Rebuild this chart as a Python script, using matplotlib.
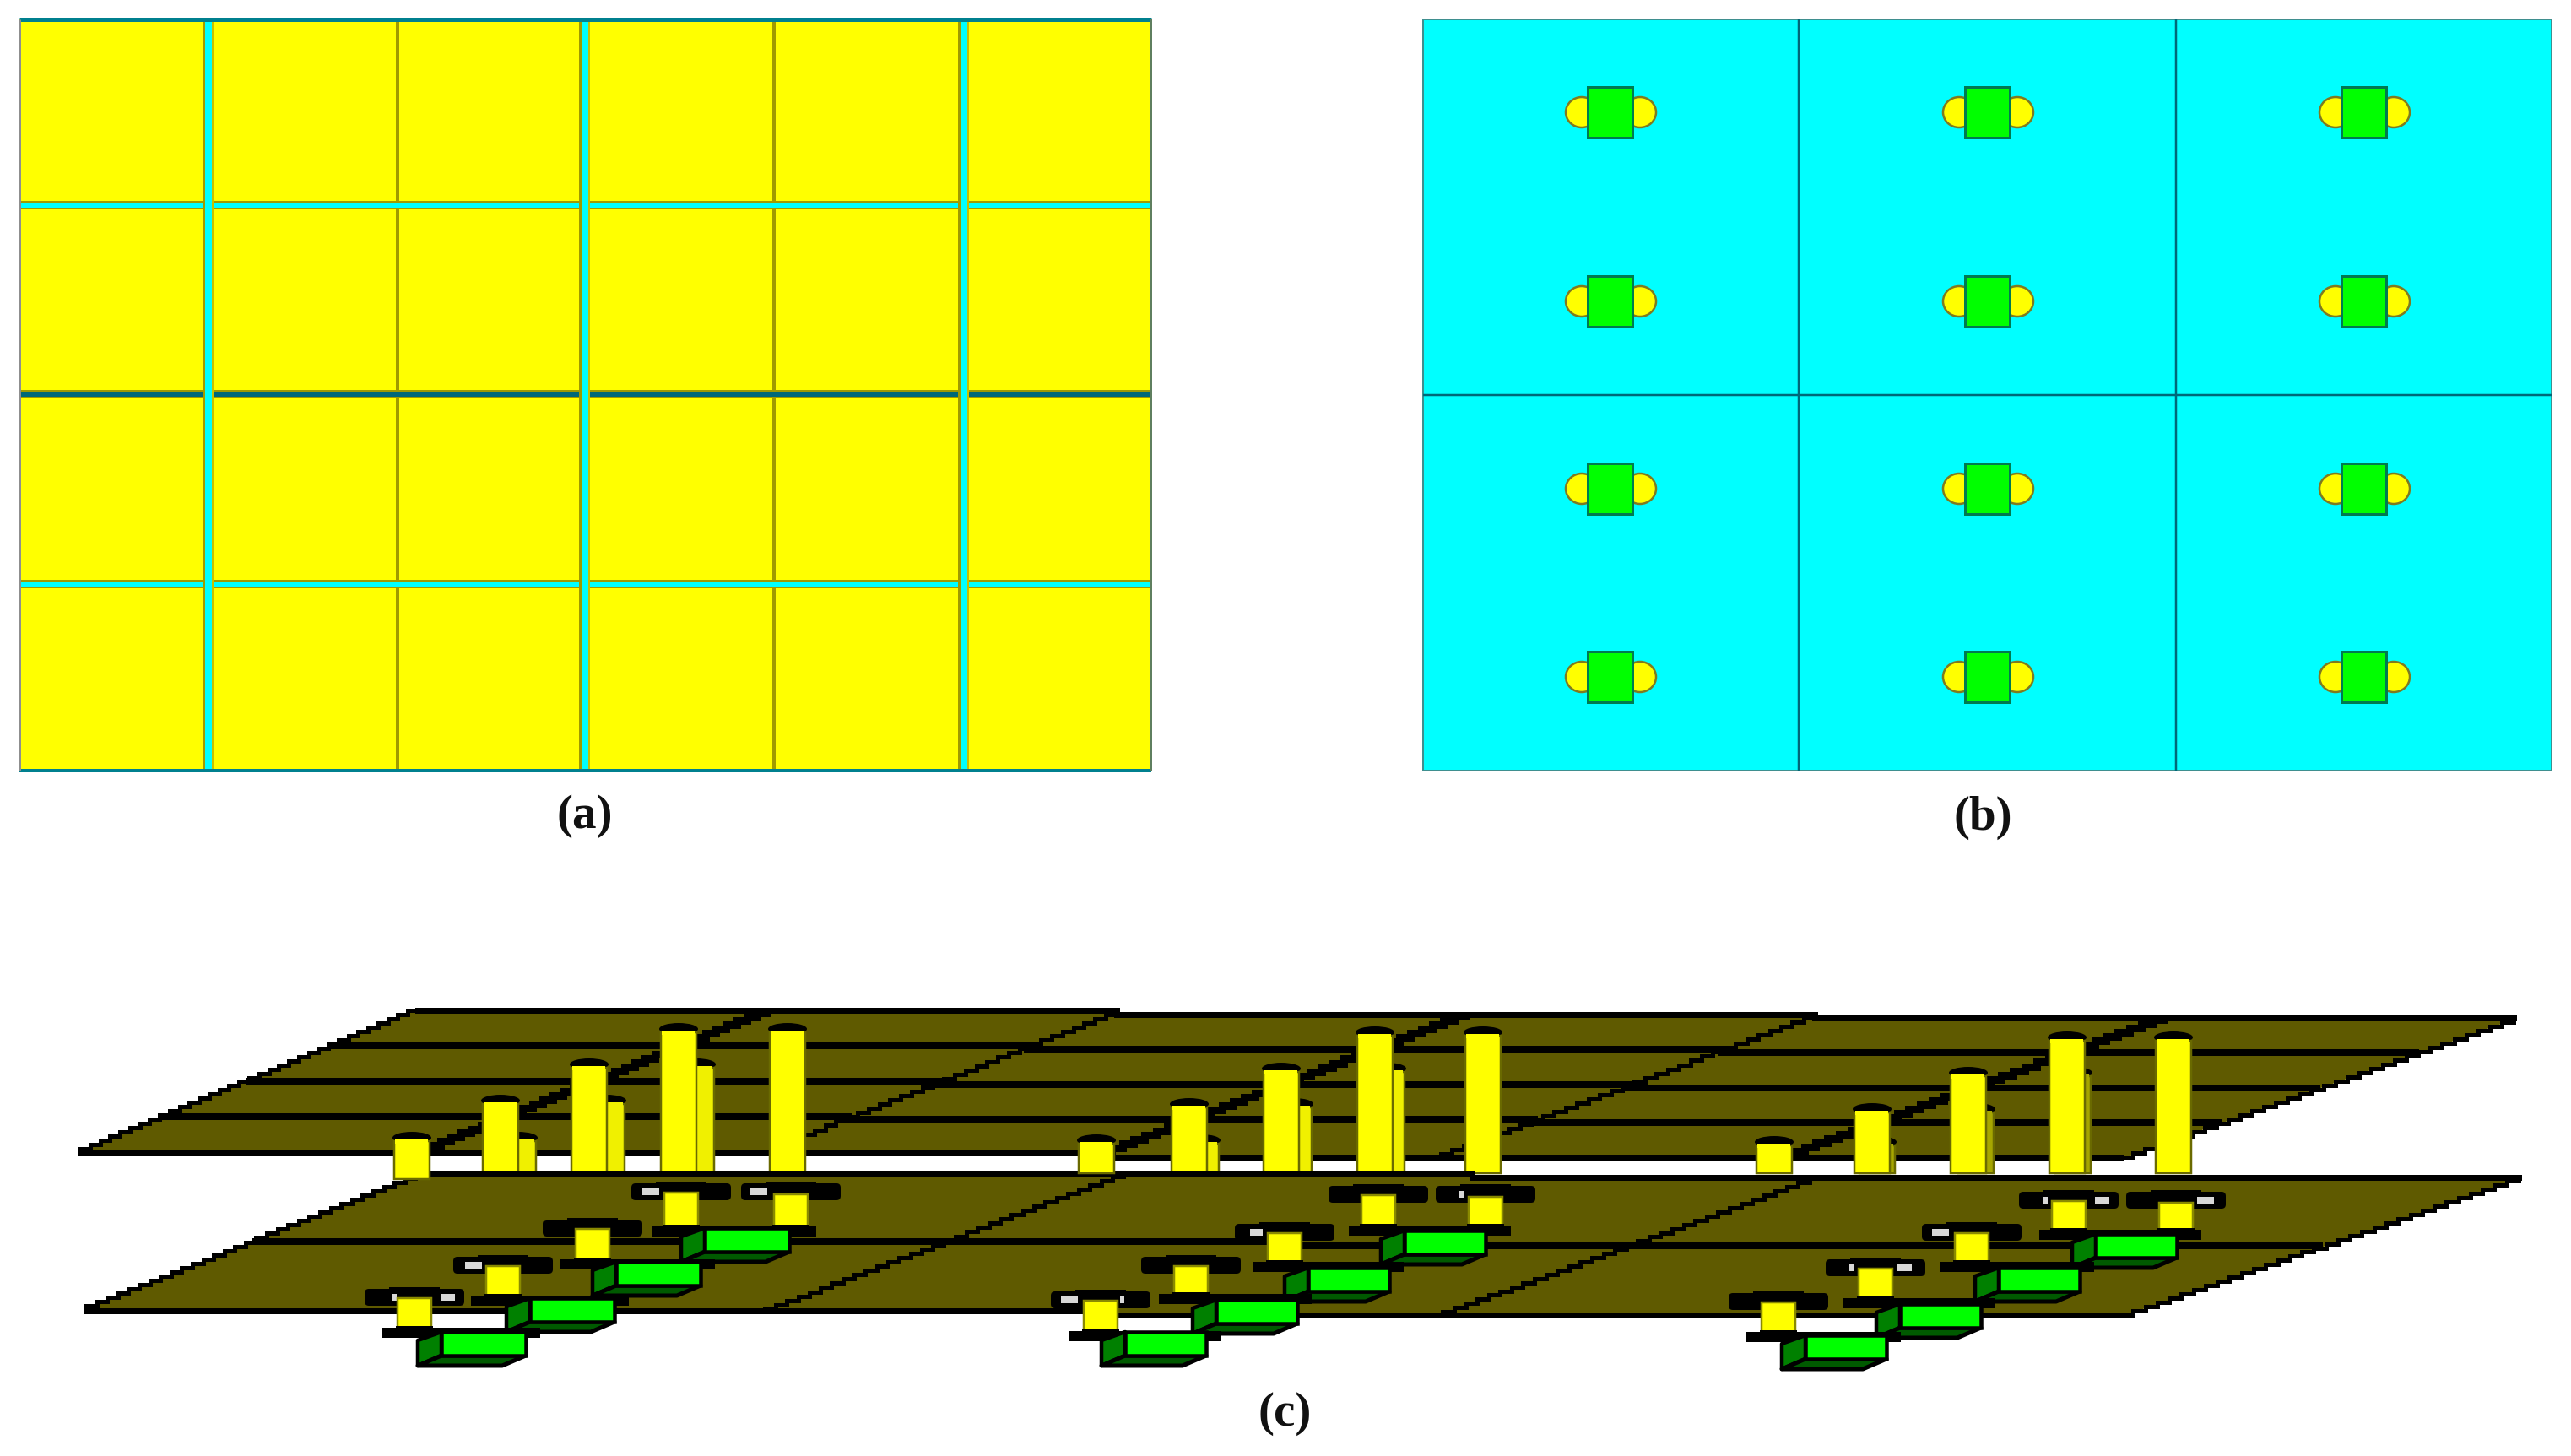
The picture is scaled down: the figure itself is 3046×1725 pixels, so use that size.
import matplotlib
matplotlib.use("Agg")
import matplotlib.pyplot as plt
from matplotlib.patches import Polygon, Rectangle, Ellipse, FancyBboxPatch

# ---------- panel labels and layout readings (image pixels) ----------
panel_labels = ["(a)", "(b)", "(c)"]
label_x = [693, 2349, 1522]
label_y = [967, 969, 1675]

a_cyan_x = [247, 693, 1142]
a_thin_x = [471, 917]
a_cyan_y = [243, 692]
a_dark_y = [467]
b_line_x = [2131, 2578]
b_line_y = [468]
b_cols = [1907, 2354, 2800]
b_rows = [133, 357, 579, 802]

# plates of panel c: corners BL, BR, TR, TL
top_plate = [(95, 1363), (2513, 1373), (2978, 1208), (495, 1195)]
low_plate = [(102, 1550), (2513, 1560), (2984, 1397), (505, 1388)]

# tall pins per group, front to back
pin_x = [[488, 593, 698, 804], [1299, 1409, 1518, 1629], [2102, 2218, 2332, 2449]]
pin_top = [[1347, 1303, 1260, 1218], [1350, 1307, 1265, 1222], [1352, 1313, 1270, 1228]]
back_right = [[635, 740, 846], [1444, 1554, 1664], [2245, 2362, 2477]]
back_last_x = [933, 1757, 2575]
back_color = ["#f0f000", "#f0f000", "#a6a600"]

# stubs per group, row 1 (front) to row 4 (back)
stub_x = [[491, 596, 702, 807], [1304, 1411, 1522, 1633], [2107, 2222, 2336, 2451]]
stub_top = [[1535, 1497, 1453, 1410], [1538, 1497, 1458, 1413], [1540, 1500, 1458, 1420]]
stub_bot = [[1573, 1535, 1492, 1453], [1577, 1533, 1495, 1452], [1578, 1538, 1495, 1457]]
stub2_x = [937, 1760, 2578]

# gray holes on the pads: (offset, width) per row
holes = [
    [[(-24, 6), (40, 17)], [(-35, 20)], [], [(-36, 20)]],
    [[(-37, 20), (26, 5)], [], [(-33, 15)], []],
    [[], [(-28, 6), (35, 17)], [(-37, 20)], [(-28, 6), (40, 17)]],
]
holes2 = [[(-38, 20)], [(-29, 6)], [(35, 20)]]

# chip boxes per group
chip_left = [[523, 628, 730, 835], [1333, 1441, 1550, 1664], [2139, 2251, 2368, 2483]]
chip_top = [[1578, 1538, 1495, 1455], [1578, 1540, 1502, 1458], [1582, 1545, 1502, 1462]]
chip_width = [100, 96, 96]

YEL, CYAN, GREEN = "#ffff00", "#00ffff", "#00ff00"
OLIVE, PLATE, TEAL = "#a09a00", "#5f5a00", "#006878"

fig = plt.figure(figsize=(30.46, 17.25), dpi=100, facecolor="white")
ax = fig.add_axes([0, 0, 1, 1])
ax.set_xlim(0, 3046)
ax.set_ylim(1725, 0)
ax.axis("off")
PX = 72 / 100


def line(xs, ys, color="black", w=4, z=2, cap="butt"):
    ax.plot(xs, ys, color=color, lw=w * PX, zorder=z, solid_capstyle=cap)


def stair(p, q, w, z, step):
    """Black line drawn with the staircase look of the low-resolution source."""
    n = max(1, int(round(abs(q[1] - p[1]) / step)))
    xs, ys = [], []
    for k in range(n):
        x0 = p[0] + (q[0] - p[0]) * k / n
        x1 = p[0] + (q[0] - p[0]) * (k + 1) / n
        y = p[1] + (q[1] - p[1]) * (k + 0.5) / n
        xs += [x0, x1]
        ys += [y, y]
    ax.plot(xs, ys, color="black", lw=w * PX, zorder=z, solid_capstyle="projecting", solid_joinstyle="miter")


# ---------- panel (a) ----------
AL, AR, AT, AB = 23, 1364, 23, 913
ax.add_patch(Rectangle((AL, AT), AR - AL, AB - AT, fc=YEL, ec="none", zorder=1))
for x in a_thin_x:
    line([x, x], [AT, AB], OLIVE, 4, 2)
for y in a_dark_y:
    line([AL, AR], [y, y], OLIVE, 10, 2)
    line([AL, AR], [y, y], TEAL, 6, 3)
for y in a_cyan_y:
    line([AL, AR], [y, y], OLIVE, 10, 2)
    line([AL, AR], [y, y], CYAN, 5, 3)
for x in a_cyan_x:
    line([x - 5, x - 5], [AT, AB], OLIVE, 4, 3)
    line([x + 5, x + 5], [AT, AB], "#c8c000", 2, 3)
    line([x, x], [AT, AB], CYAN, 8, 4)
line([AL, AR], [AT, AT], "#00808f", 5, 5)
line([AL, AR], [AB, AB], "#00808f", 4, 5)
line([AL, AL], [AT, AB], "#8f8f8f", 3, 5)
line([AR, AR], [AT, AB], "#5f7f5f", 2, 5)

# ---------- panel (b) ----------
BL, BR, BT, BB = 1686, 3023, 23, 913
ax.add_patch(Rectangle((BL, BT), BR - BL, BB - BT, fc=CYAN, ec="#3f8f8f", lw=2 * PX, zorder=1))
for x in b_line_x:
    line([x, x], [BT, BB], TEAL, 2.5, 2)
for y in b_line_y:
    line([BL, BR], [y, y], TEAL, 2.5, 2)
for cx in b_cols:
    for cy in b_rows:
        for off in (-33, 36):
            ax.add_patch(Ellipse((cx + off, cy), 38, 36, fc=YEL, ec="#7f7a20", lw=2.5 * PX, zorder=3))
        ax.add_patch(Rectangle((cx - 26, cy - 30), 53, 60, fc=GREEN, ec="#007a50", lw=3 * PX, zorder=4))


# ---------- panel (c) ----------
def plate_pt(plate, u, v):
    b = (plate[0][0] + (plate[1][0] - plate[0][0]) * u, plate[0][1] + (plate[1][1] - plate[0][1]) * u)
    t = (plate[3][0] + (plate[2][0] - plate[3][0]) * u, plate[3][1] + (plate[2][1] - plate[3][1]) * u)
    return b[0] + (t[0] - b[0]) * v, b[1] + (t[1] - b[1]) * v


def draw_plate(plate, ncol, nrow, thick, z):
    ax.add_patch(Polygon(plate, closed=True, fc=PLATE, ec="none", zorder=z))
    for i in range(1, ncol):
        p, q = plate_pt(plate, i / ncol, 0), plate_pt(plate, i / ncol, 1)
        stair(p, q, 9 if i in thick else 5, z + 0.1, 5)
    for j in range(1, nrow):
        p, q = plate_pt(plate, 0, j / nrow), plate_pt(plate, 1, j / nrow)
        stair(p, q, 8, z + 0.1, 4)
    stair(plate[0], plate[1], 7, z + 0.2, 4)
    stair(plate[3], plate[2], 7, z + 0.2, 4)
    stair(plate[0], plate[3], 5, z + 0.2, 5)
    stair(plate[1], plate[2], 5, z + 0.2, 5)


draw_plate(top_plate, 6, 4, (1, 3, 5), 10)


def pin(cx, top, bottom, width, color, z):
    ax.add_patch(Ellipse((cx, top + 1), width + 4, 14, fc="black", ec="none", zorder=z))
    ax.add_patch(Rectangle((cx - width / 2, top + 5), width, bottom - top - 5, fc=color,
                           ec="#6a6a00", lw=2.5 * PX, zorder=z + 0.1))
    ax.add_patch(Rectangle((cx - width / 2 + 1.5, top + 3), width - 3, 5, fc=color, ec="none", zorder=z + 0.2))


for g in range(3):
    for i in range(3):
        rx = back_right[g][i]
        pin(rx - 21, pin_top[g][i], 1390, 42, back_color[g], 12)
    pin(back_last_x[g], pin_top[g][3], 1390, 42, YEL, 13)
    for i in range(1, 4):
        pin(pin_x[g][i], pin_top[g][i], 1390, 42, YEL, 14)
    pin(pin_x[g][0], pin_top[g][0], 1397 if g == 0 else 1390, 42, YEL, 22)

draw_plate(low_plate, 3, 2, (), 20)


def pad(cx, y, hole_list, z):
    ax.add_patch(FancyBboxPatch((cx - 54, y - 4), 108, 10, boxstyle="round,pad=5", fc="black", ec="none", zorder=z))
    ax.add_patch(Rectangle((cx - 30, y - 11), 60, 10, fc="black", ec="none", zorder=z))
    for off, w in hole_list:
        ax.add_patch(Rectangle((cx + off - w / 2, y - 3), w, 8, fc="#d8d8d8", ec="none", zorder=z + 0.1))


def stub(cx, top, bottom, z):
    ax.add_patch(Rectangle((cx - 20, top), 40, bottom - top, fc=YEL, ec="#8a8a00", lw=2.5 * PX, zorder=z))
    ax.add_patch(Rectangle((cx - 22, bottom - 2), 44, 6, fc="black", ec="none", zorder=z + 0.1))


def chip(left, top, width, z):
    h, dx, dy = 28, 28, 12
    r, b = left + width, top + h
    ax.add_patch(Polygon([(left - dx, top + 10), (left, top), (left, b), (left - dx, b + dy)], closed=True,
                         fc="#008000", ec="black", lw=4.5 * PX, joinstyle="round", zorder=z))
    ax.add_patch(Polygon([(left - dx, b + dy), (left, b), (r, b), (r - dx, b + dy)], closed=True,
                         fc="#005a00", ec="black", lw=5 * PX, joinstyle="round", zorder=z))
    ax.add_patch(Rectangle((left, top), width, h, fc=GREEN, ec="black", lw=4.5 * PX, zorder=z + 0.1))


for g in range(3):
    for r in (3, 2, 1, 0):
        z = 30 + (3 - r) * 3
        sx, st, sb = stub_x[g][r], stub_top[g][r], stub_bot[g][r]
        cl, ct, cw = chip_left[g][r], chip_top[g][r], chip_width[g]
        pad(sx, st + 1, holes[g][r], z)
        if r == 3:
            pad(stub2_x[g], st + 1, holes2[g], z)
            stub(stub2_x[g] + 0, st + 5, sb, z + 0.3)
            ax.add_patch(Rectangle((sx - 35, sb), stub2_x[g] - sx + 65, 12, fc="black", ec="none", zorder=z + 0.2))
        else:
            ax.add_patch(Rectangle((sx - 38, sb), cl + cw - sx + 55, 12, fc="black", ec="none", zorder=z + 0.2))
        stub(sx, st + 3, sb, z + 0.3)
        if g > 0 and r > 0:
            line([cl - 12, cl - 12], [ct + 8, ct + 34], "#d8d800", 4, z + 0.4)
        chip(cl, ct, cw, z + 1)

# ---------- labels ----------
for txt, x, y in zip(panel_labels, label_x, label_y):
    ax.text(x, y, txt, ha="center", va="center", fontsize=41, fontweight="bold",
            family="Liberation Serif", color="#111111", zorder=50)

fig.savefig("out.png", dpi=100, facecolor="white")
